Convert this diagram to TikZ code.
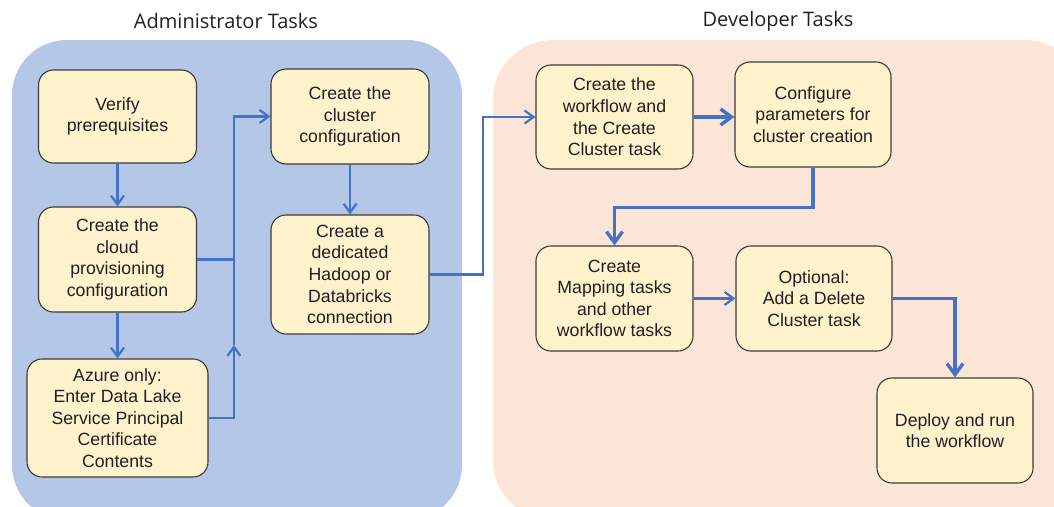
\documentclass[tikz,border=0pt]{standalone}
\usepackage{fontspec}
\setmainfont{Liberation Sans}
\newfontfamily\titlefont{Open Sans}
\usetikzlibrary{arrows.meta,calc}
\definecolor{adminbg}{HTML}{B4C7E7}
\definecolor{devbg}{HTML}{FBE5D6}
\definecolor{boxfill}{HTML}{FFF2CC}
\definecolor{boxline}{HTML}{3A3A3A}
\definecolor{arrowblue}{HTML}{4472C4}
\definecolor{txt}{HTML}{202020}
\begin{document}
\begin{tikzpicture}[x=1pt,y=-1pt,
  task/.style={draw=boxline,line width=1.1pt,fill=boxfill,rounded corners=15pt,
    align=center,text=txt,inner sep=0pt,
    font=\fontsize{17.7}{21.6}\selectfont},
  paneltitle/.style={text=txt,font=\titlefont\fontsize{20}{24}\selectfont},
  conn/.style={draw=arrowblue,line width=2.2pt},
  arr/.style={conn,-{Straight Barb[length=9pt,width=13pt,line width=2.2pt]}},
  bigarr/.style={draw=arrowblue,line width=3.4pt,-{Straight Barb[length=11pt,width=16pt,line width=3.4pt]}}
]
\useasboundingbox (0,0) rectangle (1054,506);
\begin{scope}
\clip (0,0) rectangle (1054,506);
\fill[adminbg,rounded corners=55pt] (12,40) rectangle (462,520);
\fill[devbg,rounded corners=60pt] (493,40) rectangle (1085,520);
\end{scope}

\node[paneltitle] (t1) at (226,21) {Administrator Tasks};
\node[paneltitle] (t2) at (778,21) {Developer Tasks};

% Administrator boxes
\node[task,minimum width=158pt,minimum height=93pt] (A1) at (117.5,116.5) {Verify\\prerequisites};
\node[task,minimum width=158pt,minimum height=105pt] (A2) at (117.5,259.5) {Create the\\cloud\\provisioning\\configuration};
\node[task,minimum width=181pt,minimum height=118pt] (A3) at (117.5,418) {Azure only:\\Enter Data Lake\\Service Principal\\Certificate\\Contents};
\node[task,minimum width=158pt,minimum height=95pt] (A4) at (350,116.5) {Create the\\cluster\\configuration};
\node[task,minimum width=158pt,minimum height=119pt] (A5) at (350,274.5) {Create a\\dedicated\\Hadoop or\\Databricks\\connection};

% Developer boxes
\node[task,minimum width=157pt,minimum height=104pt] (D1) at (614.5,117) {Create the\\workflow and\\the Create\\Cluster task};
\node[task,minimum width=156pt,minimum height=105pt] (D2) at (813,114.5) {Configure\\parameters for\\cluster creation};
\node[task,minimum width=157pt,minimum height=105pt] (D3) at (614.5,298.5) {Create\\Mapping tasks\\and other\\workflow tasks};
\node[task,minimum width=156pt,minimum height=105pt] (D4) at (814,298.5) {Optional:\\Add a Delete\\Cluster task};
\node[task,minimum width=156pt,minimum height=105pt] (D5) at (955,430.5) {Deploy and run\\the workflow};

% connectors
\coordinate (j1) at (234,345);
\coordinate (k1) at (483,200);
\draw[arr] (A1.south) -- (A2.north);
\draw[arr] (A2.south) -- (A3.north);
\draw[arr] (A4.south) -- (A5.north);
\draw[conn] (A2.east) -- (A2.east -| j1);
\draw[arr] (A3.east) -| (j1);
\draw[arr] (j1) |- (A4.west);
\draw[arr] (A5.east) -| (k1) |- (D1.west);
\draw[bigarr] (D1.east) -- (D1.east -| D2.west);
\draw[bigarr] (D2.south) -- ++(0,40) -| (D3.north);
\draw[arr] (D3.east) -- (D4.west);
\draw[bigarr] (D4.east) -| (D5.north);
\end{tikzpicture}
\end{document}
